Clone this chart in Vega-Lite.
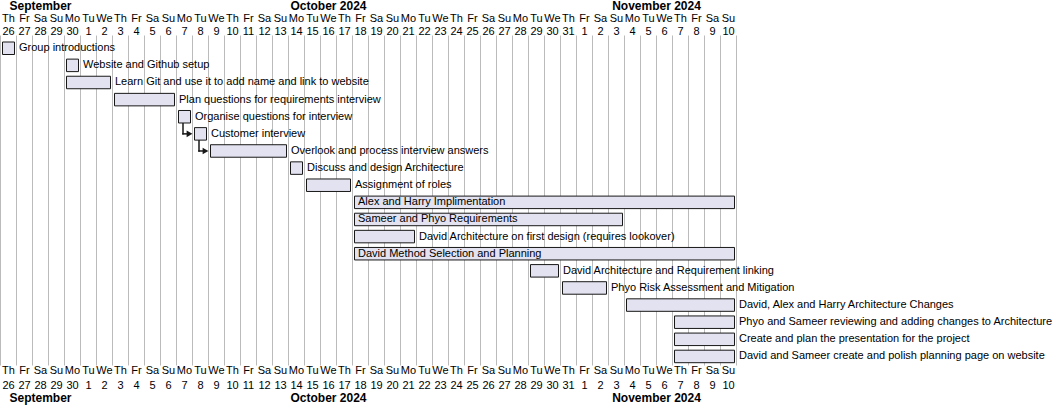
{
  "$schema": "https://vega.github.io/schema/vega-lite/v6.json",
  "width": 736,
  "height": 330,
  "autosize": {"type": "none"},
  "padding": {"left": 0, "top": 35, "right": 316, "bottom": 41},
  "background": "white",
  "config": {"view": {"stroke": null}, "font": "Liberation Sans"},
  "datasets": {
    "tasks": [
      {"task": "Group introductions", "start": "2024-09-26", "end": "2024-09-27"},
      {"task": "Website and Github setup", "start": "2024-09-30", "end": "2024-10-01"},
      {"task": "Learn Git and use it to add name and link to website", "start": "2024-09-30", "end": "2024-10-03"},
      {"task": "Plan questions for requirements interview", "start": "2024-10-03", "end": "2024-10-07"},
      {"task": "Organise questions for interview", "start": "2024-10-07", "end": "2024-10-08"},
      {"task": "Customer interview", "start": "2024-10-08", "end": "2024-10-09"},
      {"task": "Overlook and process interview answers", "start": "2024-10-09", "end": "2024-10-14"},
      {"task": "Discuss and design Architecture", "start": "2024-10-14", "end": "2024-10-15"},
      {"task": "Assignment of roles", "start": "2024-10-15", "end": "2024-10-18"},
      {"task": "Alex and Harry Implimentation", "start": "2024-10-18", "end": "2024-11-11"},
      {"task": "Sameer and Phyo Requirements", "start": "2024-10-18", "end": "2024-11-04"},
      {"task": "David Architecture on first design (requires lookover)", "start": "2024-10-18", "end": "2024-10-22"},
      {"task": "David Method Selection and Planning", "start": "2024-10-18", "end": "2024-11-11"},
      {"task": "David Architecture and Requirement linking", "start": "2024-10-29", "end": "2024-10-31"},
      {"task": "Phyo Risk Assessment and Mitigation", "start": "2024-10-31", "end": "2024-11-03"},
      {"task": "David, Alex and Harry Architecture Changes", "start": "2024-11-04", "end": "2024-11-11"},
      {"task": "Phyo and Sameer reviewing and adding changes to Architecture", "start": "2024-11-07", "end": "2024-11-11"},
      {"task": "Create and plan the presentation for the project", "start": "2024-11-07", "end": "2024-11-11"},
      {"task": "David and Sameer create and polish planning page on website", "start": "2024-11-07", "end": "2024-11-11"}
    ],
    "links": [
      {"from": "Organise questions for interview", "to": "Customer interview", "fromStart": "2024-10-07", "toStart": "2024-10-08"},
      {"from": "Customer interview", "to": "Overlook and process interview answers", "fromStart": "2024-10-08", "toStart": "2024-10-09"}
    ]
  },
  "layer": [
    {
      "data": {"name": "links"},
      "mark": {"type": "rule", "color": "#181818", "strokeWidth": 1.5, "xOffset": 7, "y2Offset": 0.75},
      "encoding": {
        "x": {"field": "fromStart", "type": "temporal",
          "scale": {"type": "utc", "domain": [{"year": 2024, "month": "sep", "date": 26, "utc": true}, {"year": 2024, "month": "nov", "date": 11, "utc": true}], "nice": false},
          "axis": {"orient": "bottom", "domain": false, "ticks": false, "tickSize": 0, "grid": true, "gridColor": "#BBBBBB", "gridWidth": 1, "gridOpacity": 1, "title": null,
            "labelPadding": 8, "labelBaseline": "alphabetic", "labelAlign": "center", "labelOffset": 8, "labelFontSize": 11, "labelFont": "Liberation Sans", "labelColor": "#000000",
            "labelOverlap": false, "labelFlush": false, "labelBound": false, "tickCount": {"interval": "day", "step": 1},
            "labelExpr": "(utcmonth(datum.value)==10 && utcdate(datum.value)==11) ? '' : substring(utcFormat(datum.value, '%a'), 0, 2)"}},
        "y": {"field": "from", "type": "nominal", "axis": null,
          "scale": {"domain": ["Group introductions", "Website and Github setup", "Learn Git and use it to add name and link to website", "Plan questions for requirements interview", "Organise questions for interview", "Customer interview", "Overlook and process interview answers", "Discuss and design Architecture", "Assignment of roles", "Alex and Harry Implimentation", "Sameer and Phyo Requirements", "David Architecture on first design (requires lookover)", "David Method Selection and Planning", "David Architecture and Requirement linking", "Phyo Risk Assessment and Mitigation", "David, Alex and Harry Architecture Changes", "Phyo and Sameer reviewing and adding changes to Architecture", "Create and plan the presentation for the project", "David and Sameer create and polish planning page on website"], "paddingInner": 0, "paddingOuter": 0.137, "align": 1}},
        "y2": {"field": "to"}
      }
    },
    {
      "data": {"name": "links"},
      "mark": {"type": "rule", "color": "#181818", "strokeWidth": 1.5, "xOffset": 6.25, "x2Offset": -4},
      "encoding": {
        "x": {"field": "fromStart", "type": "temporal",
          "scale": {"type": "utc", "domain": [{"year": 2024, "month": "sep", "date": 26, "utc": true}, {"year": 2024, "month": "nov", "date": 11, "utc": true}], "nice": false},
          "axis": {"orient": "bottom", "domain": false, "ticks": false, "tickSize": 0, "grid": false, "title": null,
            "labelPadding": 23, "labelBaseline": "alphabetic", "labelAlign": "center", "labelOffset": 8, "labelFontSize": 11, "labelFont": "Liberation Sans", "labelColor": "#000000",
            "labelOverlap": false, "labelFlush": false, "labelBound": false, "tickCount": {"interval": "day", "step": 1},
            "labelExpr": "(utcmonth(datum.value)==10 && utcdate(datum.value)==11) ? '' : utcFormat(datum.value, '%-d')"}},
        "x2": {"field": "toStart"},
        "y": {"field": "to", "type": "nominal", "axis": null}
      }
    },
    {
      "data": {"name": "links"},
      "mark": {"type": "point", "shape": "triangle-right", "filled": true, "color": "#181818", "opacity": 1, "size": 45, "xOffset": -2.5},
      "encoding": {
        "x": {"field": "toStart", "type": "temporal",
          "scale": {"type": "utc", "domain": [{"year": 2024, "month": "sep", "date": 26, "utc": true}, {"year": 2024, "month": "nov", "date": 11, "utc": true}], "nice": false},
          "axis": {"orient": "bottom", "domain": false, "ticks": false, "tickSize": 0, "grid": false, "title": null,
            "labelPadding": 36.5, "labelBaseline": "alphabetic", "labelAlign": "center", "labelFontSize": 12, "labelFontWeight": "bold", "labelFont": "Liberation Sans", "labelColor": "#000000",
            "labelOverlap": false, "labelFlush": false, "labelBound": false,
            "values": [{"year": 2024, "month": "sep", "date": 28, "hours": 12, "utc": true}, {"year": 2024, "month": "oct", "date": 16, "hours": 12, "utc": true}, {"year": 2024, "month": "nov", "date": 6, "utc": true}],
            "labelExpr": "utcmonth(datum.value)==8 ? 'September' : utcFormat(datum.value, '%B %Y')"}},
        "y": {"field": "to", "type": "nominal", "axis": null}
      }
    },
    {
      "data": {"name": "tasks"},
      "mark": {"type": "bar", "fill": "#E2E2F0", "stroke": "#181818", "strokeWidth": 1, "size": 12.5, "xOffset": 2.5, "x2Offset": -1.5, "cornerRadius": 0},
      "encoding": {
        "x": {"field": "start", "type": "temporal",
          "scale": {"type": "utc", "domain": [{"year": 2024, "month": "sep", "date": 26, "utc": true}, {"year": 2024, "month": "nov", "date": 11, "utc": true}], "nice": false},
          "axis": {"orient": "top", "domain": false, "ticks": false, "tickSize": 0, "grid": false, "title": null,
            "labelPadding": 1, "labelBaseline": "alphabetic", "labelAlign": "center", "labelOffset": 8, "labelFontSize": 11, "labelFont": "Liberation Sans", "labelColor": "#000000",
            "labelOverlap": false, "labelFlush": false, "labelBound": false, "tickCount": {"interval": "day", "step": 1},
            "labelExpr": "(utcmonth(datum.value)==10 && utcdate(datum.value)==11) ? '' : utcFormat(datum.value, '%-d')"}},
        "x2": {"field": "end"},
        "y": {"field": "task", "type": "nominal", "axis": null}
      }
    },
    {
      "data": {"name": "tasks"},
      "transform": [{"filter": {"not": {"field": "task", "oneOf": ["Alex and Harry Implimentation", "Sameer and Phyo Requirements", "David Method Selection and Planning"]}}}],
      "mark": {"type": "text", "align": "left", "baseline": "middle", "dx": 3, "fontSize": 11, "font": "Liberation Sans", "color": "#000000"},
      "encoding": {
        "x": {"field": "end", "type": "temporal",
          "scale": {"type": "utc", "domain": [{"year": 2024, "month": "sep", "date": 26, "utc": true}, {"year": 2024, "month": "nov", "date": 11, "utc": true}], "nice": false},
          "axis": {"orient": "top", "domain": false, "ticks": false, "tickSize": 0, "grid": false, "title": null,
            "labelPadding": 14, "labelBaseline": "alphabetic", "labelAlign": "center", "labelOffset": 8, "labelFontSize": 11, "labelFont": "Liberation Sans", "labelColor": "#000000",
            "labelOverlap": false, "labelFlush": false, "labelBound": false, "tickCount": {"interval": "day", "step": 1},
            "labelExpr": "(utcmonth(datum.value)==10 && utcdate(datum.value)==11) ? '' : substring(utcFormat(datum.value, '%a'), 0, 2)"}},
        "y": {"field": "task", "type": "nominal", "axis": null},
        "text": {"field": "task"}
      }
    },
    {
      "data": {"name": "tasks"},
      "transform": [{"filter": {"field": "task", "oneOf": ["Alex and Harry Implimentation", "Sameer and Phyo Requirements", "David Method Selection and Planning"]}}],
      "mark": {"type": "text", "align": "left", "baseline": "middle", "dx": 6, "fontSize": 11, "font": "Liberation Sans", "color": "#000000"},
      "encoding": {
        "x": {"field": "start", "type": "temporal",
          "scale": {"type": "utc", "domain": [{"year": 2024, "month": "sep", "date": 26, "utc": true}, {"year": 2024, "month": "nov", "date": 11, "utc": true}], "nice": false},
          "axis": {"orient": "top", "domain": false, "ticks": false, "tickSize": 0, "grid": false, "title": null,
            "labelPadding": 25.5, "labelBaseline": "alphabetic", "labelAlign": "center", "labelFontSize": 12, "labelFontWeight": "bold", "labelFont": "Liberation Sans", "labelColor": "#000000",
            "labelOverlap": false, "labelFlush": false, "labelBound": false,
            "values": [{"year": 2024, "month": "sep", "date": 28, "hours": 12, "utc": true}, {"year": 2024, "month": "oct", "date": 16, "hours": 12, "utc": true}, {"year": 2024, "month": "nov", "date": 6, "utc": true}],
            "labelExpr": "utcmonth(datum.value)==8 ? 'September' : utcFormat(datum.value, '%B %Y')"}},
        "y": {"field": "task", "type": "nominal", "axis": null},
        "text": {"field": "task"}
      }
    }
  ],
  "resolve": {"axis": {"x": "independent"}}
}
